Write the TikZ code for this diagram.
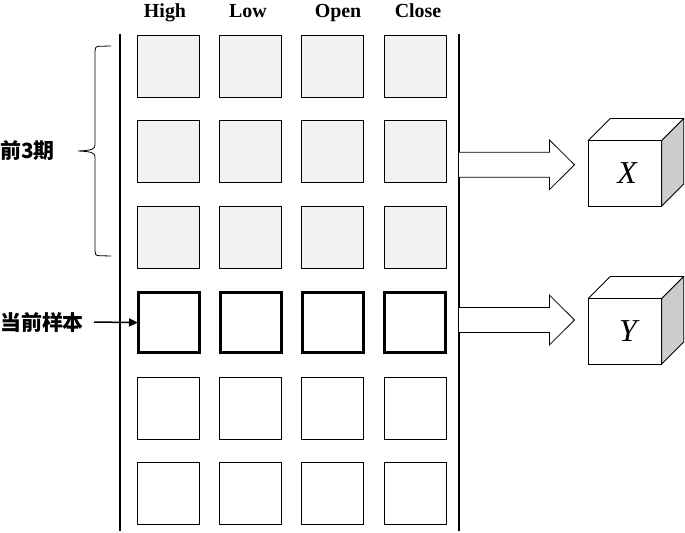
\documentclass[tikz,border=0pt]{standalone}
\usepackage{fontspec}
\setmainfont{Liberation Serif}
\newfontfamily\cjk{Noto Sans CJK SC}
\usetikzlibrary{arrows.meta,calc}
\definecolor{pastfill}{HTML}{F2F2F2}
\definecolor{sidefill}{HTML}{CCCCCC}
\begin{document}
\begin{tikzpicture}[x=1bp,y=-1bp,
  cell/.style={draw,line width=1bp,minimum width=62bp,minimum height=62bp,inner sep=0pt,outer sep=0pt},
  pastcell/.style={cell,fill=pastfill},
  curcell/.style={cell,line width=3bp,minimum width=61bp,minimum height=59.5bp},
  hdr/.style={font=\fontsize{20}{20}\selectfont\bfseries,inner sep=0pt,anchor=base},
  cjklabel/.style={font=\cjk\bfseries\fontsize{21}{21}\selectfont,inner sep=0pt,anchor=west},
  sepline/.style={line width=2bp},
  fatarrow/.style={draw,line width=0.8bp,fill=white,line join=miter},
  cubefront/.style={draw,line width=0.8bp,fill=white,minimum width=73.5bp,minimum height=65.5bp,inner sep=0pt,outer sep=0pt},
  cubelabel/.style={font=\fontsize{32}{32}\selectfont\itshape,inner sep=0pt,anchor=base},
  cubeface/.style={draw,line width=0.8bp,line join=round}
]
\useasboundingbox (0,0) rectangle (685,533);

% headers
\node[hdr] (hHigh) at (165,17.5) {High};
\node[hdr] (hLow) at (248,17.5) {Low};
\node[hdr] (hOpen) at (338,17.5) {Open};
\node[hdr] (hClose) at (418,17.5) {Close};

% separator lines
\coordinate (Ltop) at (120,34);
\coordinate (Lbot) at (120,531);
\coordinate (Rtop) at (459,34);
\coordinate (Rbot) at (459,531);
\draw[sepline] (Ltop) -- (Lbot);
\draw[sepline] (Rtop) -- (Rbot);

% cells
\foreach \c/\x in {1/168.5,2/250.8,3/332.8,4/415}{
  \node[pastcell] (r1c\c) at (\x,67) {};
  \node[pastcell] (r2c\c) at (\x,152) {};
  \node[pastcell] (r3c\c) at (\x,237.3) {};
  \node[curcell] (r4c\c) at (\x,322.6) {};
  \node[cell] (r5c\c) at (\x,408) {};
  \node[cell] (r6c\c) at (\x,493.2) {};
}

% brace
\coordinate (bTop) at (111,46);
\coordinate (bTip) at (78,151);
\coordinate (bBot) at (111,256);
\draw[line width=0.8bp] (bTop) -- (99,46.3) .. controls (95.5,46.6) and (95,48) .. (95,51)
  -- (95,145) .. controls (95,149) and (92,150.5) .. (bTip)
  .. controls (92,151.5) and (95,153) .. (95,157)
  -- (95,251) .. controls (95,254) and (95.5,255.5) .. (99,255.7) -- (bBot);

% left labels
\node[cjklabel] (lbPast) at (0,151) {前3期};
\node[cjklabel] (lbCur) at (0,322) {当前样本};
\coordinate (curStart) at (94,322);
\draw[line width=1.5bp,-{Triangle[length=9bp,width=8bp]}] (curStart) -- (r4c1.west);

% cubes
\node[cubefront] (cubeX) at (625,173.3) {};
\node[cubefront] (cubeY) at (625,331.3) {};
\foreach \cb in {cubeX,cubeY}{
  \draw[cubeface,fill=white] (\cb.north west) -- ++(22,-22) -- ($(\cb.north east)+(22,-22)$) -- (\cb.north east) -- cycle;
  \draw[cubeface,fill=sidefill] (\cb.north east) -- ++(22,-22) -- ($(\cb.south east)+(22,-22)$) -- (\cb.south east) -- cycle;
}
\node[cubelabel] (labX) at (627,184) {X};
\node[cubelabel] (labY) at (628,341) {Y};

% fat arrows
\coordinate (aX) at (459,164.8);
\coordinate (aY) at (459,320);
\foreach \a in {aX,aY}{
  \draw[fatarrow] ($(\a)+(0,-12.5)$) -- ++(90.5,0) -- ++(0,-12.3) -- ($(\a)+(115.5,0)$)
    -- ($(\a)+(90.5,24.8)$) -- ++(0,-12.3) -- ($(\a)+(0,12.5)$);
}
\end{tikzpicture}
\end{document}
